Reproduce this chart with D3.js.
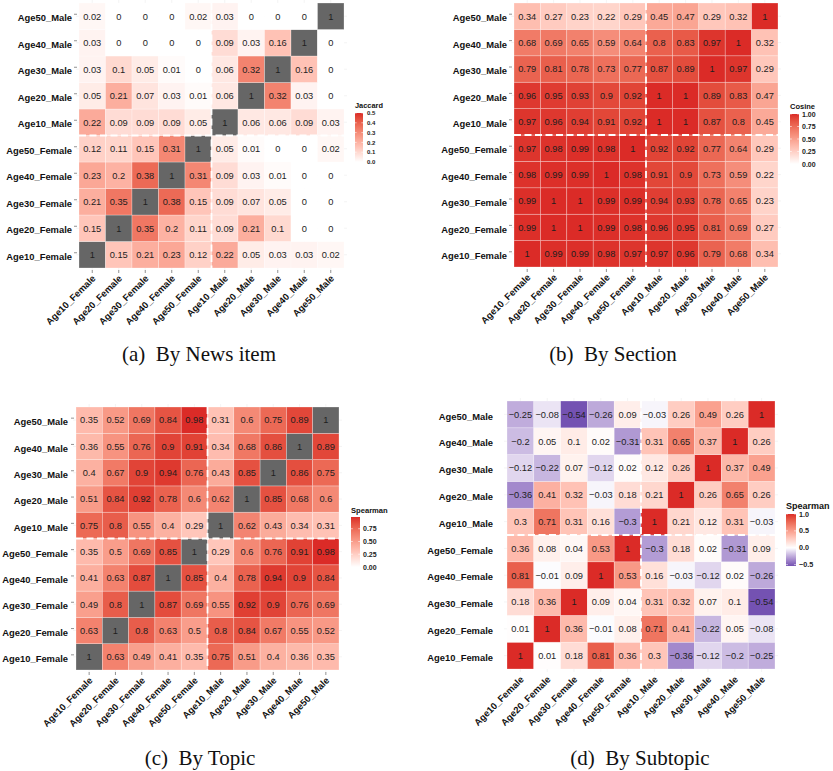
<!DOCTYPE html>
<html><head><meta charset="utf-8">
<script src="https://cdn.jsdelivr.net/npm/d3@7"></script>
<style>
html,body{margin:0;padding:0;background:#fff;}
svg{display:block;}
</style></head>
<body>
<svg id="chart" width="833" height="771"></svg>
<script>
// ---------- DATA ----------
const categories = ["Age10_Female","Age20_Female","Age30_Female","Age40_Female","Age50_Female",
                    "Age10_Male","Age20_Male","Age30_Male","Age40_Male","Age50_Male"];

// rows follow categories order (row i = y category i), columns follow categories order
const jaccardValues = [
  [1, 0.15, 0.21, 0.23, 0.12, 0.22, 0.05, 0.03, 0.03, 0.02],
  [0.15, 1, 0.35, 0.2, 0.11, 0.09, 0.21, 0.1, 0, 0],
  [0.21, 0.35, 1, 0.38, 0.15, 0.09, 0.07, 0.05, 0, 0],
  [0.23, 0.2, 0.38, 1, 0.31, 0.09, 0.03, 0.01, 0, 0],
  [0.12, 0.11, 0.15, 0.31, 1, 0.05, 0.01, 0, 0, 0.02],
  [0.22, 0.09, 0.09, 0.09, 0.05, 1, 0.06, 0.06, 0.09, 0.03],
  [0.05, 0.21, 0.07, 0.03, 0.01, 0.06, 1, 0.32, 0.03, 0],
  [0.03, 0.1, 0.05, 0.01, 0, 0.06, 0.32, 1, 0.16, 0],
  [0.03, 0, 0, 0, 0, 0.09, 0.03, 0.16, 1, 0],
  [0.02, 0, 0, 0, 0.02, 0.03, 0, 0, 0, 1]
];
const cosineValues = [
  [1, 0.99, 0.99, 0.98, 0.97, 0.97, 0.96, 0.79, 0.68, 0.34],
  [0.99, 1, 1, 0.99, 0.98, 0.96, 0.95, 0.81, 0.69, 0.27],
  [0.99, 1, 1, 0.99, 0.99, 0.94, 0.93, 0.78, 0.65, 0.23],
  [0.98, 0.99, 0.99, 1, 0.98, 0.91, 0.9, 0.73, 0.59, 0.22],
  [0.97, 0.98, 0.99, 0.98, 1, 0.92, 0.92, 0.77, 0.64, 0.29],
  [0.97, 0.96, 0.94, 0.91, 0.92, 1, 1, 0.87, 0.8, 0.45],
  [0.96, 0.95, 0.93, 0.9, 0.92, 1, 1, 0.89, 0.83, 0.47],
  [0.79, 0.81, 0.78, 0.73, 0.77, 0.87, 0.89, 1, 0.97, 0.29],
  [0.68, 0.69, 0.65, 0.59, 0.64, 0.8, 0.83, 0.97, 1, 0.32],
  [0.34, 0.27, 0.23, 0.22, 0.29, 0.45, 0.47, 0.29, 0.32, 1]
];
const topicValues = [
  [1, 0.63, 0.49, 0.41, 0.35, 0.75, 0.51, 0.4, 0.36, 0.35],
  [0.63, 1, 0.8, 0.63, 0.5, 0.8, 0.84, 0.67, 0.55, 0.52],
  [0.49, 0.8, 1, 0.87, 0.69, 0.55, 0.92, 0.9, 0.76, 0.69],
  [0.41, 0.63, 0.87, 1, 0.85, 0.4, 0.78, 0.94, 0.9, 0.84],
  [0.35, 0.5, 0.69, 0.85, 1, 0.29, 0.6, 0.76, 0.91, 0.98],
  [0.75, 0.8, 0.55, 0.4, 0.29, 1, 0.62, 0.43, 0.34, 0.31],
  [0.51, 0.84, 0.92, 0.78, 0.6, 0.62, 1, 0.85, 0.68, 0.6],
  [0.4, 0.67, 0.9, 0.94, 0.76, 0.43, 0.85, 1, 0.86, 0.75],
  [0.36, 0.55, 0.76, 0.9, 0.91, 0.34, 0.68, 0.86, 1, 0.89],
  [0.35, 0.52, 0.69, 0.84, 0.98, 0.31, 0.6, 0.75, 0.89, 1]
];
const subtopicValues = [
  [1, 0.01, 0.18, 0.81, 0.36, 0.3, -0.36, -0.12, -0.2, -0.25],
  [0.01, 1, 0.36, -0.01, 0.08, 0.71, 0.41, -0.22, 0.05, -0.08],
  [0.18, 0.36, 1, 0.09, 0.04, 0.31, 0.32, 0.07, 0.1, -0.54],
  [0.81, -0.01, 0.09, 1, 0.53, 0.16, -0.03, -0.12, 0.02, -0.26],
  [0.36, 0.08, 0.04, 0.53, 1, -0.3, 0.18, 0.02, -0.31, 0.09],
  [0.3, 0.71, 0.31, 0.16, -0.3, 1, 0.21, 0.12, 0.31, -0.03],
  [-0.36, 0.41, 0.32, -0.03, 0.18, 0.21, 1, 0.26, 0.65, 0.26],
  [-0.12, -0.22, 0.07, -0.12, 0.02, 0.12, 0.26, 1, 0.37, 0.49],
  [-0.2, 0.05, 0.1, 0.02, -0.31, 0.31, 0.65, 0.37, 1, 0.26],
  [-0.25, -0.08, -0.54, -0.26, 0.09, -0.03, 0.26, 0.49, 0.26, 1]
];

const jaccardBreaks = [0, 0.1, 0.2, 0.3, 0.4, 0.5];
const cosineBreaks = [0, 0.25, 0.5, 0.75, 1];
const topicBreaks = [0, 0.25, 0.5, 0.75];
const subtopicBreaks = [-0.5, 0, 0.5, 1];
const captions = ["(a)\u2002By News item", "(b)\u2002By Section", "(c)\u2002By Topic", "(d)\u2002By Subtopic"];
const legendTitles = ["Jaccard", "Cosine", "Spearman", "Spearman"];

// ---------- STYLE ----------
const RED = "#DB2B27", PURPLE = "#7452B2", NA_COL = "#666666";
const SANS = "'Liberation Sans', Arial, Helvetica, sans-serif";
const SERIF = "'Liberation Serif', 'Times New Roman', serif";

const scaleA = d3.scaleLinear().domain([0, 0.5]).range(["#ffffff", RED]).interpolate(d3.interpolateLab);
const scaleB = d3.scaleLinear().domain([0, 1]).range(["#ffffff", RED]).interpolate(d3.interpolateLab);
const scaleC = d3.scaleLinear().domain([0, 0.98]).range(["#ffffff", RED]).interpolate(d3.interpolateLab);
const scaleD = d3.scaleLinear().domain([-0.54, 0, 1]).range([PURPLE, "#ffffff", RED]).interpolate(d3.interpolateLab);

const panels = [
  {values: jaccardValues, color: v => v > 0.5 ? NA_COL : scaleA(v), scale: scaleA, lim: [0, 0.5], breaks: jaccardBreaks, fmt: d3.format(".1f"),
   left: 79, top: 3, size: 265, labGap: 7, ticks: true,
   leg: {x: 355, titleY: 108, top: 113, bottom: 162, w: 8, titleSize: 7.4, labSize: 6, labX: 367},
   cap: {x: 199, y: 361}},
  {values: cosineValues, color: v => scaleB(v), scale: scaleB, lim: [0, 1], breaks: cosineBreaks, fmt: d3.format(".2f"),
   left: 514, top: 3, size: 264, labGap: 7, ticks: true,
   leg: {x: 790, titleY: 108.5, top: 114, bottom: 164, w: 9, titleSize: 7.5, labSize: 7, labX: 802},
   cap: {x: 613, y: 361}},
  {values: topicValues, color: v => v > 0.98 ? NA_COL : scaleC(v), scale: scaleC, lim: [0, 0.98], breaks: topicBreaks, fmt: d3.format(".2f"),
   left: 76, top: 407, size: 263, labGap: 8, ticks: true,
   leg: {x: 351, titleY: 513, top: 517, bottom: 567, w: 9, titleSize: 7.6, labSize: 7, labX: 363},
   cap: {x: 200, y: 765}},
  {values: subtopicValues, color: v => scaleD(v), scale: scaleD, lim: [-0.54, 1], breaks: subtopicBreaks, fmt: d3.format(".1f"),
   left: 507, top: 401, size: 268, labGap: 14, ticks: false,
   leg: {x: 786, titleY: 509, top: 514, bottom: 566, w: 10, titleSize: 9, labSize: 7.2, labX: 799},
   cap: {x: 640, y: 765}}
];

const svg = d3.select("#chart");
svg.append("rect").attr("width", 833).attr("height", 771).attr("fill", "#fff");

panels.forEach((p, pi) => {
  const g = svg.append("g");
  const x = d3.scaleBand().domain(categories).range([p.left, p.left + p.size]);
  const y = d3.scaleBand().domain(categories.slice().reverse()).range([p.top, p.top + p.size]);
  const bw = x.bandwidth(), bh = y.bandwidth();

  // faint panel grid lines
  const grid = g.append("g").attr("stroke", "#ececec").attr("stroke-width", 0.6);
  categories.forEach(c => {
    grid.append("line").attr("x1", x(c) + bw / 2).attr("x2", x(c) + bw / 2)
      .attr("y1", p.top - 3).attr("y2", p.top + p.size + 3);
    grid.append("line").attr("y1", y(c) + bh / 2).attr("y2", y(c) + bh / 2)
      .attr("x1", p.left - 3).attr("x2", p.left + p.size + 3);
  });

  const cells = [];
  p.values.forEach((row, i) => row.forEach((v, j) => cells.push({r: categories[i], c: categories[j], v})));

  g.append("g").selectAll("rect").data(cells).join("rect")
    .attr("x", d => x(d.c)).attr("y", d => y(d.r))
    .attr("width", bw).attr("height", bh)
    .attr("fill", d => p.color(d.v))
    .attr("stroke", "#ffffff").attr("stroke-opacity", 0.45).attr("stroke-width", 0.6);

  g.append("g").selectAll("text").data(cells).join("text")
    .attr("x", d => x(d.c) + bw / 2).attr("y", d => y(d.r) + bh / 2)
    .attr("dy", "0.36em").attr("text-anchor", "middle")
    .attr("font-family", SANS).attr("font-size", 9.3).attr("fill", "#1e1e1e")
    .text(d => d3.format("~g")(d.v));

  // separator dashed lines
  const sepX = x("Age10_Male"), sepY = y("Age10_Male") + bh;
  g.append("line").attr("x1", sepX).attr("x2", sepX).attr("y1", p.top).attr("y2", p.top + p.size)
    .attr("stroke", "#fff").attr("stroke-width", 1.8).attr("stroke-dasharray", "7,3.5");
  g.append("line").attr("y1", sepY).attr("y2", sepY).attr("x1", p.left).attr("x2", p.left + p.size)
    .attr("stroke", "#fff").attr("stroke-width", 1.8).attr("stroke-dasharray", "7,3.5");

  // y axis labels
  categories.forEach(c => {
    const cy = y(c) + bh / 2;
    if (p.ticks) g.append("line").attr("x1", p.left - 5).attr("x2", p.left - 2).attr("y1", cy - 2).attr("y2", cy - 2)
      .attr("stroke", "#777").attr("stroke-width", 0.8);
    g.append("text").attr("x", p.left - p.labGap).attr("y", cy + 5.2)
      .attr("text-anchor", "end").attr("font-family", SANS).attr("font-weight", "bold")
      .attr("font-size", 9.4).attr("fill", "#111").text(c);
  });
  // x axis labels
  const by = p.top + p.size;
  categories.forEach(c => {
    const cx = x(c) + bw / 2;
    if (p.ticks) g.append("line").attr("x1", cx).attr("x2", cx).attr("y1", by + 2).attr("y2", by + 5)
      .attr("stroke", "#777").attr("stroke-width", 0.8);
    g.append("text").attr("transform", `translate(${cx + 4},${by + 11}) rotate(-45)`)
      .attr("text-anchor", "end").attr("font-family", SANS).attr("font-weight", "bold")
      .attr("font-size", 9.4).attr("fill", "#111").text(c);
  });

  // legend
  const L = p.leg;
  const ly = d3.scaleLinear().domain(p.lim).range([L.bottom, L.top]);
  const gid = "grad" + pi;
  const grad = svg.append("defs").append("linearGradient").attr("id", gid)
    .attr("x1", 0).attr("y1", 1).attr("x2", 0).attr("y2", 0);
  d3.range(0, 1.0001, 0.05).forEach(t => {
    const v = p.lim[0] + t * (p.lim[1] - p.lim[0]);
    grad.append("stop").attr("offset", t).attr("stop-color", p.scale(v));
  });
  g.append("text").attr("x", L.x).attr("y", L.titleY).attr("font-family", SANS).attr("font-weight", "bold")
    .attr("font-size", L.titleSize).attr("fill", "#111").text(legendTitles[pi]);
  g.append("rect").attr("x", L.x).attr("y", L.top).attr("width", L.w).attr("height", L.bottom - L.top)
    .attr("fill", `url(#${gid})`);
  p.breaks.forEach(b => {
    const yy = ly(b);
    g.append("line").attr("x1", L.x).attr("x2", L.x + L.w * 0.2).attr("y1", yy).attr("y2", yy).attr("stroke", "#fff").attr("stroke-width", 0.6);
    g.append("line").attr("x1", L.x + L.w * 0.8).attr("x2", L.x + L.w).attr("y1", yy).attr("y2", yy).attr("stroke", "#fff").attr("stroke-width", 0.6);
    g.append("text").attr("x", L.labX).attr("y", yy).attr("dy", "0.36em")
      .attr("font-family", SANS).attr("font-weight", "bold").attr("font-size", L.labSize).attr("fill", "#222")
      .text(p.fmt(b));
  });

  // caption
  svg.append("text").attr("x", p.cap.x).attr("y", p.cap.y).attr("text-anchor", "middle")
    .attr("font-family", SERIF).attr("font-size", 21).attr("fill", "#111").text(captions[pi]);
});
</script>
</body></html>
